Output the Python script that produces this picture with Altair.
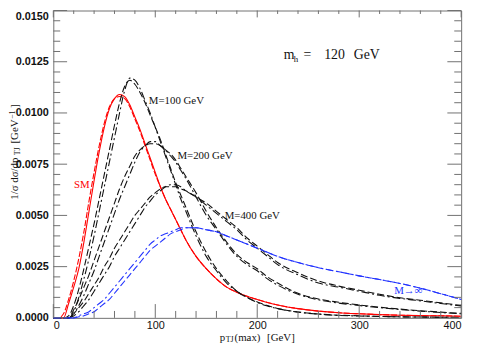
import altair as alt
import pandas as pd

# ---------------- data ----------------
X = [0, 5, 10, 15, 20, 25, 30, 35, 40, 45, 50, 55, 60, 65, 70, 75, 80, 85, 90, 95,
     100, 105, 110, 115, 120, 125, 130, 140, 150, 160, 170, 180, 190, 200, 210, 220,
     240, 260, 280, 300, 320, 340, 360, 380, 400]

SM_SOLID = [0, 0, 0, 0.0007, 0.0015, 0.0024, 0.0037, 0.0052, 0.0067, 0.0081, 0.0093, 0.0102,
            0.0107, 0.0109, 0.0108, 0.0104, 0.0098, 0.0092, 0.0085, 0.0078, 0.0071, 0.0064,
            0.0058, 0.0053, 0.0048, 0.0043, 0.0038, 0.0030, 0.0024, 0.0019, 0.0015, 0.00125,
            0.00105, 0.0009, 0.00075, 0.00063, 0.00045, 0.00033, 0.00025, 0.0002, 0.00016,
            0.00013, 0.00011, 0.0001, 0.00008]
SM_DASH = [0, 0, 0.0002, 0.0009, 0.0018, 0.0029, 0.0042, 0.0057, 0.0071, 0.0084, 0.0095, 0.0103,
           0.0107, 0.0108, 0.0107, 0.0103, 0.0097, 0.0091, 0.0084, 0.0077, 0.0070, 0.0064,
           0.0058, 0.0053, 0.0048, 0.0043, 0.0038, 0.0030, 0.0024, 0.0019, 0.0015, 0.00125,
           0.00105, 0.0009, 0.00075, 0.00063, 0.00045, 0.00033, 0.00025, 0.0002, 0.00016,
           0.00013, 0.00011, 0.0001, 0.00008]

M100_DD = [0, 0, 0, 0, 0.0003, 0.0010, 0.0019, 0.0029, 0.0040, 0.0052, 0.0064, 0.0076, 0.0088,
           0.0100, 0.0111, 0.0117, 0.0116, 0.0112, 0.0106, 0.0100, 0.0093, 0.0086, 0.0079,
           0.0072, 0.0065, 0.0058, 0.0052, 0.0040, 0.0030, 0.0023, 0.0017, 0.0013, 0.0010,
           0.00075, 0.00058, 0.00045, 0.00028, 0.00018, 0.00012, 0.00009, 0.00007, 0.00005,
           0.00004, 0.00003, 0.00002]
M100_DA = [0, 0, 0, 0.0001, 0.0006, 0.0014, 0.0024, 0.0035, 0.0046, 0.0058, 0.0070, 0.0082,
           0.0094, 0.0105, 0.0113, 0.0116, 0.0114, 0.0110, 0.0105, 0.0099, 0.0093, 0.0087,
           0.0080, 0.0073, 0.0066, 0.0060, 0.0054, 0.0042, 0.0032, 0.0024, 0.0018, 0.0013,
           0.0010, 0.00078, 0.0006, 0.00046, 0.00029, 0.00019, 0.00013, 0.0001, 0.00007,
           0.00005, 0.00004, 0.00003, 0.00002]

M200_DD = [0, 0, 0, 0, 0.0002, 0.0006, 0.0011, 0.0017, 0.0023, 0.0030, 0.0037, 0.0044, 0.0051,
           0.0058, 0.0064, 0.0070, 0.0076, 0.0081, 0.0084, 0.0086, 0.0086, 0.0084, 0.0082,
           0.0079, 0.0076, 0.0072, 0.0068, 0.0059, 0.0050, 0.0043, 0.0036, 0.0030, 0.0026,
           0.0023, 0.0019, 0.0016, 0.00115, 0.00088, 0.00072, 0.0006, 0.0005, 0.00041,
           0.00033, 0.00026, 0.0002]
M200_DA = [0, 0, 0, 0, 0.0004, 0.0009, 0.0015, 0.0021, 0.0028, 0.0035, 0.0042, 0.0049, 0.0056,
           0.0063, 0.0069, 0.0074, 0.0079, 0.0082, 0.0084, 0.0085, 0.0085, 0.0084, 0.0082,
           0.0080, 0.0077, 0.0073, 0.0069, 0.0061, 0.0052, 0.0044, 0.0037, 0.0031, 0.0027,
           0.0024, 0.0020, 0.0017, 0.0012, 0.00092, 0.00076, 0.00063, 0.00052, 0.00043,
           0.00035, 0.00028, 0.00022]

M400_DD = [0, 0, 0, 0, 0.0001, 0.0003, 0.0006, 0.0009, 0.0013, 0.0017, 0.0021, 0.0025, 0.0030,
           0.0034, 0.0038, 0.0042, 0.0046, 0.0050, 0.0054, 0.0057, 0.0060, 0.0062, 0.0064,
           0.0065, 0.0065, 0.0064, 0.0062, 0.0059, 0.0055, 0.0051, 0.0047, 0.0043, 0.0038,
           0.0034, 0.0030, 0.0026, 0.0021, 0.0017, 0.0015, 0.0013, 0.0011, 0.00095, 0.00083,
           0.0007, 0.00058]
M400_DA = [0, 0, 0, 0, 0.0002, 0.0005, 0.0008, 0.0012, 0.0016, 0.0020, 0.0025, 0.0029, 0.0034,
           0.0038, 0.0042, 0.0046, 0.0050, 0.0053, 0.0056, 0.0059, 0.0061, 0.0063, 0.0064,
           0.0064, 0.0064, 0.0063, 0.0062, 0.0059, 0.0056, 0.0052, 0.0048, 0.0044, 0.0039,
           0.0035, 0.0031, 0.0027, 0.0022, 0.0018, 0.00155, 0.00135, 0.00115, 0.00098,
           0.00086, 0.00073, 0.00061]

MINF_DD = [0, 0, 0, 0, 0, 0.0001, 0.0002, 0.0003, 0.0005, 0.0007, 0.0009, 0.0012, 0.0015,
           0.0018, 0.0021, 0.0024, 0.0027, 0.0030, 0.0033, 0.0036, 0.0038, 0.0040, 0.0041,
           0.0042, 0.0043, 0.0044, 0.0044, 0.0044, 0.0043, 0.0042, 0.0040, 0.0038, 0.0036,
           0.0034, 0.0032, 0.0030, 0.0027, 0.00245, 0.00225, 0.00205, 0.00187, 0.00168,
           0.00145, 0.00118, 0.0009]
MINF_DA = [0, 0, 0, 0, 0, 0.00005, 0.0001, 0.0002, 0.0003, 0.0005, 0.0007, 0.0009, 0.0012,
           0.0015, 0.0018, 0.0021, 0.0024, 0.0027, 0.0030, 0.0033, 0.0035, 0.0037, 0.0039,
           0.0041, 0.0042, 0.0043, 0.0044, 0.0044, 0.0043, 0.0042, 0.0040, 0.0038, 0.0036,
           0.0034, 0.0032, 0.0030, 0.0027, 0.00245, 0.00225, 0.00205, 0.00187, 0.00168,
           0.00145, 0.00118, 0.0009]

X_TICKS = [0, 100, 200, 300, 400]
X_MINOR = [20, 40, 60, 80, 120, 140, 160, 180, 220, 240, 260, 280, 320, 340, 360, 380]
Y_TICKS = [0.0, 0.0025, 0.005, 0.0075, 0.01, 0.0125, 0.015]
Y_MINOR = [0.0005, 0.001, 0.0015, 0.002, 0.003, 0.0035, 0.004, 0.0045, 0.0055, 0.006, 0.0065,
           0.007, 0.008, 0.0085, 0.009, 0.0095, 0.0105, 0.011, 0.0115, 0.012, 0.013, 0.0135,
           0.014, 0.0145]

LABELS_BLACK = [("M=100 GeV", 93.7, 0.01059), ("M=200 GeV", 121.7, 0.00788),
                ("M=400 GeV", 168.1, 0.00498)]
LABEL_MINF = ("M\u2192\u221e", 334.3, 0.00132)
LABEL_SM = ("SM", 20.3, 0.0065)

# ---------------- styling ----------------
W, H = 414, 312
RED = "#ff0000"
BLUE = "#2233ff"
BLACK = "#111111"
FRAME = "#707070"
SERIF = "Liberation Serif"
SANS = "Liberation Sans"
DASH = [7, 3]
DASHDOT = [8, 3, 2, 3]

xs = alt.Scale(domain=[0, 400], nice=False, zero=False)
ysc = alt.Scale(domain=[0, 0.015], nice=False)

XA = alt.Axis(values=X_TICKS, format="d", ticks=False, domain=False, grid=False,
              labelPadding=2, labelFontSize=11, labelFont=SANS, labelColor=BLACK,
              title=None)
YA = alt.Axis(values=Y_TICKS, format=".4f", ticks=False, domain=False, grid=False,
              labelPadding=5, labelFontSize=11, labelFont=SANS, labelFontWeight="bold",
              labelColor=BLACK, title=None,
              labelBaseline=alt.condition("datum.value >= 0.0149",
                                          alt.value("top"), alt.value("middle")))


def X_ENC(field):
    return alt.X(field, scale=xs, axis=XA)


def Y_ENC(field):
    return alt.Y(field, scale=ysc, axis=YA)


def line(vals, color, dash=None):
    kw = dict(color=color, strokeWidth=1.1, interpolate="monotone")
    if dash:
        kw["strokeDash"] = dash
    return alt.Chart(pd.DataFrame({"x": X, "y": vals})).mark_line(**kw).encode(
        x=X_ENC("x:Q"), y=Y_ENC("y:Q"))


def yticks(vals, length):
    d = pd.DataFrame({"v": vals})
    left = alt.Chart(d).mark_rule(color=FRAME, strokeWidth=1).encode(
        y=Y_ENC("v:Q"), x=alt.value(0), x2=alt.value(length))
    right = alt.Chart(d).mark_rule(color=FRAME, strokeWidth=1).encode(
        y=Y_ENC("v:Q"), x=alt.value(W), x2=alt.value(W - length))
    return [left, right]


def xticks(vals, length):
    d = pd.DataFrame({"v": vals})
    bottom = alt.Chart(d).mark_rule(color=FRAME, strokeWidth=1).encode(
        x=X_ENC("v:Q"), y=alt.value(H), y2=alt.value(H - length))
    top = alt.Chart(d).mark_rule(color=FRAME, strokeWidth=1).encode(
        x=X_ENC("v:Q"), y=alt.value(0), y2=alt.value(length * 0.5))
    return [bottom, top]


def data_text(items, color, size=11, font=SERIF):
    d = pd.DataFrame({"t": [i[0] for i in items], "x": [i[1] for i in items],
                      "y": [i[2] for i in items]})
    return alt.Chart(d).mark_text(align="left", baseline="middle", font=font,
                                  fontSize=size, color=color).encode(
        x=X_ENC("x:Q"), y=Y_ENC("y:Q"), text="t:N")


def px_text(t, px, py, size=11, angle=0, color=BLACK, font=SERIF):
    # px, py are page coordinates; plot origin is at page (54, 8)
    return alt.Chart(pd.DataFrame({"t": [t]})).mark_text(
        align="left", baseline="middle", font=font, fontSize=size, angle=angle,
        color=color).encode(x=alt.value(px - 54), y=alt.value(py - 8), text="t:N")


layers = [
    line(SM_SOLID, RED),
    line(SM_DASH, RED, dash=[6, 2]),
    line(M100_DD, BLACK, dash=DASHDOT),
    line(M100_DA, BLACK, dash=DASH),
    line(M200_DD, BLACK, dash=DASHDOT),
    line(M200_DA, BLACK, dash=DASH),
    line(M400_DD, BLACK, dash=DASHDOT),
    line(M400_DA, BLACK, dash=DASH),
    line(MINF_DD, BLUE, dash=DASHDOT),
    line(MINF_DA, BLUE, dash=DASH),
]
layers += yticks(Y_TICKS, 14) + yticks(Y_MINOR, 7)
layers += xticks(X_TICKS, 14) + xticks(X_MINOR, 7)

layers += [
    data_text(LABELS_BLACK, BLACK, 11),
    data_text([LABEL_MINF], BLUE, 11),
    data_text([LABEL_SM], RED, 11),
    # m_h = 120 GeV
    px_text("m", 288, 53, 14),
    px_text("h", 298, 57, 9),
    px_text("=", 308, 53, 14),
    px_text("120", 329, 53, 14),
    px_text("GeV", 359, 53, 14),
    # x title
    px_text("p", 223, 340, 11),
    px_text("TJ", 229, 343, 8),
    px_text("(max)", 238, 340, 11),
    px_text("[GeV]", 271, 340, 11),
    # y title (rotated)
    px_text("1/\u03c3 d\u03c3/dp", 15, 200, 11, angle=270),
    px_text("TJ", 18, 155, 8, angle=270),
    px_text("[GeV", 15, 143, 11, angle=270),
    px_text("\u22121", 13, 118, 8, angle=270),
    px_text("]", 15, 107, 11, angle=270),
]

chart = alt.layer(*layers).properties(
    width=W, height=H,
    autosize=alt.AutoSizeParams(type="none"),
    padding={"left": 46, "top": 0, "right": 10, "bottom": 25},
).configure_view(stroke=FRAME, strokeWidth=1)

chart.save("out.html", embed_options={"renderer": "svg", "actions": False})
